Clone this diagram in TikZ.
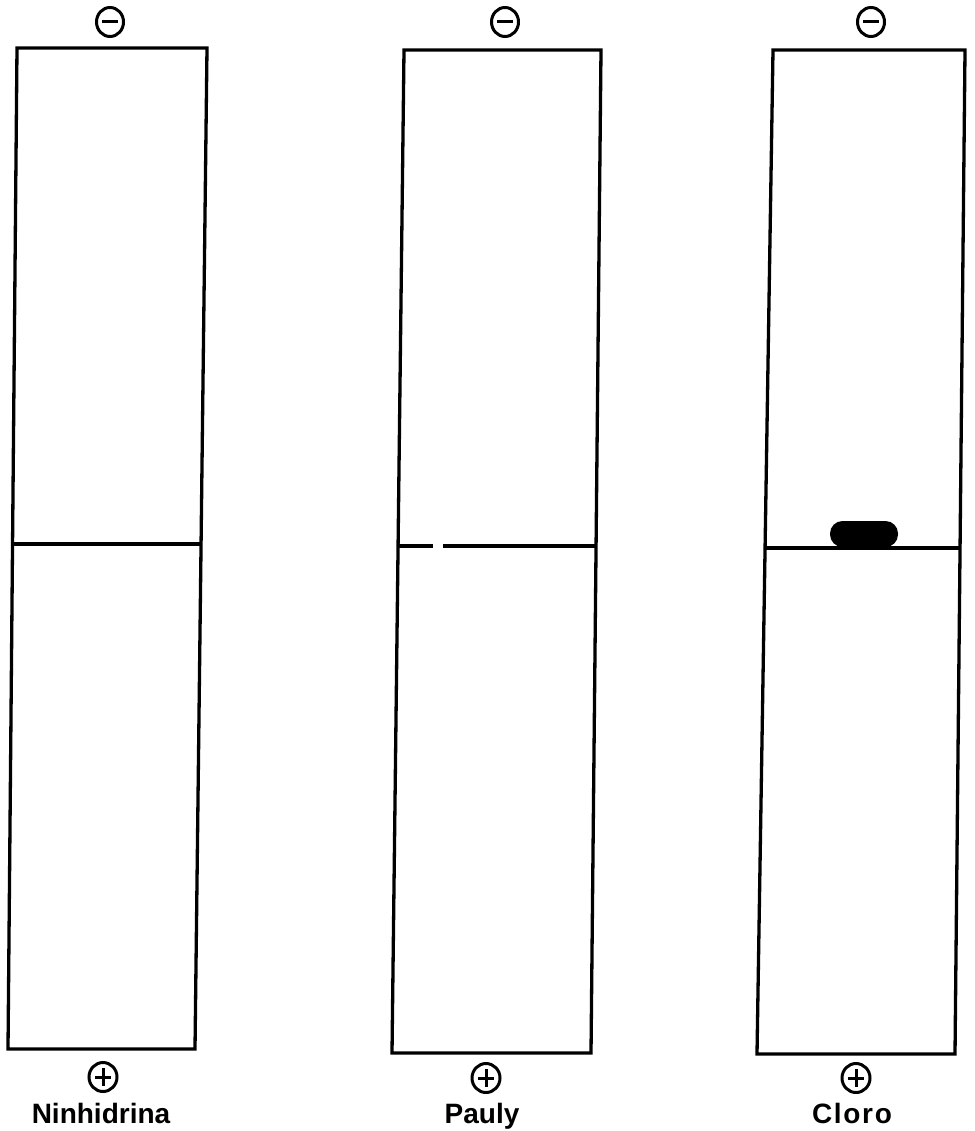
\documentclass[tikz,border=0pt]{standalone}
\usepackage{fontspec}
\newfontfamily\labfont{Liberation Sans}
\newfontfamily\labfontsp{Liberation Sans}[LetterSpace=6]
\begin{document}
\begin{tikzpicture}[x=1pt,y=-1pt,
  strip/.style={line width=3.3pt,line join=miter},
  pole/.style={line width=3pt},
  lab/.style={font=\labfont\bfseries\fontsize{28}{30}\selectfont,anchor=base,inner sep=0pt}]
\useasboundingbox[fill=white] (0,0) rectangle (974,1131);
% strip 1
\coordinate (a1) at (17,48); \coordinate (b1) at (207,48);
\coordinate (c1) at (195,1049); \coordinate (d1) at (8,1049);
\draw[strip] (a1) -- (b1) -- (c1) -- (d1) -- cycle;
\draw[strip] (12.5,544) -- (201,544);
% strip 2
\coordinate (a2) at (404,50); \coordinate (b2) at (601,50);
\coordinate (c2) at (591,1053); \coordinate (d2) at (392,1053);
\draw[strip] (a2) -- (b2) -- (c2) -- (d2) -- cycle;
\draw[strip] (398,546) -- (433,546);
\draw[strip] (443,546) -- (596,546);
% strip 3
\coordinate (a3) at (773,50); \coordinate (b3) at (965,50);
\coordinate (c3) at (955,1054); \coordinate (d3) at (757,1054);
\draw[strip] (a3) -- (b3) -- (c3) -- (d3) -- cycle;
\draw[strip] (765,548) -- (960,548);
\fill[rounded corners=12.5pt] (830,521) rectangle (898,547);
% minus poles
\foreach \x/\y in {110/22,505/22,871/22}{
  \draw[pole] (\x,\y) ellipse [x radius=13.5, y radius=14.5];
  \draw[pole] (\x-8,\y) -- (\x+8,\y);
}
% plus poles
\foreach \x/\y in {103/1077,486/1078,856/1078}{
  \draw[pole] (\x,\y) ellipse [x radius=14, y radius=14.5];
  \draw[pole] (\x-8,\y) -- (\x+8,\y);
  \draw[pole] (\x,\y-9) -- (\x,\y+9);
}
\node[lab] (n1) at (101,1123) {Ninhidrina};
\node[lab] (n2) at (482,1123) {Pauly};
\node[lab,font=\labfontsp\bfseries\fontsize{28}{30}\selectfont] (n3) at (852,1123) {Cloro};
\end{tikzpicture}
\end{document}
